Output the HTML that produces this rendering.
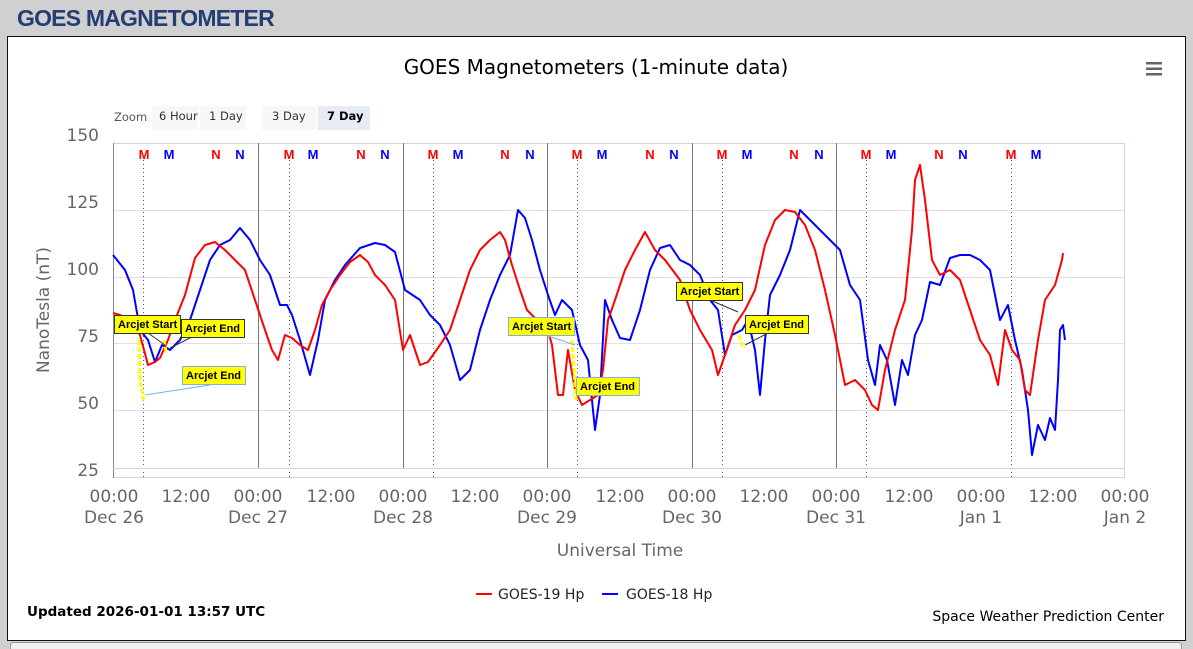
<!DOCTYPE html>
<html><head><meta charset="utf-8"><style>
html,body{margin:0;padding:0;width:1193px;height:649px;overflow:hidden;background:#d0d0d0;font-family:"Liberation Sans",sans-serif;}
</style></head><body>
<svg width="1193" height="649" xmlns="http://www.w3.org/2000/svg" style="position:absolute;left:0;top:0">
<rect x="0" y="0" width="1193" height="649" fill="#d0d0d0"/>
<text x="17" y="26" font-size="23" font-weight="bold" fill="#233e73" letter-spacing="-0.8">GOES MAGNETOMETER</text>
<rect x="7.5" y="36.5" width="1178" height="604" fill="#fff" stroke="#111" stroke-width="1"/>
<rect x="10.5" y="642.5" width="1171" height="10" rx="3" fill="#f0f0f0" stroke="#999"/>
<text x="596" y="74" font-size="20" text-anchor="middle" fill="#000" font-family="DejaVu Sans,sans-serif">GOES Magnetometers (1-minute data)</text>
<g fill="#666"><rect x="1146" y="62" width="16" height="2.5"/><rect x="1146" y="67.5" width="16" height="2.5"/><rect x="1146" y="73" width="16" height="2.5"/></g>
<g font-family="DejaVu Sans,sans-serif" font-size="11.5">
<text x="114" y="121" fill="#555">Zoom</text>
<rect x="152" y="106" width="46" height="24" fill="#f7f7f7"/><text x="159" y="120" fill="#333">6 Hour</text>
<rect x="200" y="106" width="46" height="24" fill="#f7f7f7"/><text x="209" y="120" fill="#333">1 Day</text>
<rect x="262" y="106" width="54" height="24" fill="#f7f7f7"/><text x="272" y="120" fill="#333">3 Day</text>
<rect x="318" y="106" width="52" height="24" fill="#e6ebf5"/><text x="327" y="120" fill="#000" font-weight="bold">7 Day</text>
</g>
<!-- grid -->
<g stroke="#e0e0e0" stroke-width="1">
<line x1="113" x2="1125" y1="210.5" y2="210.5"/><line x1="113" x2="1125" y1="277.5" y2="277.5"/>
<line x1="113" x2="1125" y1="343.5" y2="343.5"/><line x1="113" x2="1125" y1="410.5" y2="410.5"/>
</g>
<rect x="113.5" y="143.5" width="1011" height="334" fill="none" stroke="#ccd6eb"/>
<line x1="113.5" y1="143" x2="113.5" y2="478" stroke="#888"/>
<g font-size="17" fill="#666" font-family="DejaVu Sans,sans-serif" text-anchor="end">
<text x="99" y="141">150</text><text x="99" y="208">125</text><text x="99" y="275">100</text>
<text x="99" y="342">75</text><text x="99" y="409">50</text><text x="99" y="476">25</text>
</g>
<text transform="translate(49,310) rotate(-90)" font-size="17" fill="#666" text-anchor="middle" font-family="DejaVu Sans,sans-serif">NanoTesla (nT)</text>
<!-- day lines -->
<g stroke="#777" stroke-width="1">
<line x1="258.5" x2="258.5" y1="143" y2="468"/><line x1="403.5" x2="403.5" y1="143" y2="468"/>
<line x1="547.5" x2="547.5" y1="143" y2="468"/><line x1="692.5" x2="692.5" y1="143" y2="468"/>
<line x1="836.5" x2="836.5" y1="143" y2="468"/>
</g>
<g stroke="#555" stroke-width="1" stroke-dasharray="1,3">
<line x1="143.5" x2="143.5" y1="160" y2="478"/><line x1="289.5" x2="289.5" y1="160" y2="478"/>
<line x1="433.5" x2="433.5" y1="160" y2="478"/><line x1="577.5" x2="577.5" y1="160" y2="478"/>
<line x1="722.5" x2="722.5" y1="160" y2="478"/><line x1="866.5" x2="866.5" y1="160" y2="478"/>
<line x1="1011.5" x2="1011.5" y1="160" y2="478"/>
</g>
<g font-size="13" font-weight="bold" text-anchor="middle">
<text x="144" y="159" fill="#f00">M</text><text x="169" y="159" fill="#00f">M</text><text x="216" y="159" fill="#f00">N</text><text x="240" y="159" fill="#00f">N</text>
<text x="289" y="159" fill="#f00">M</text><text x="313" y="159" fill="#00f">M</text><text x="361" y="159" fill="#f00">N</text><text x="385" y="159" fill="#00f">N</text>
<text x="433" y="159" fill="#f00">M</text><text x="458" y="159" fill="#00f">M</text><text x="505" y="159" fill="#f00">N</text><text x="530" y="159" fill="#00f">N</text>
<text x="577" y="159" fill="#f00">M</text><text x="602" y="159" fill="#00f">M</text><text x="650" y="159" fill="#f00">N</text><text x="674" y="159" fill="#00f">N</text>
<text x="722" y="159" fill="#f00">M</text><text x="747" y="159" fill="#00f">M</text><text x="794" y="159" fill="#f00">N</text><text x="819" y="159" fill="#00f">N</text>
<text x="866" y="159" fill="#f00">M</text><text x="891" y="159" fill="#00f">M</text><text x="939" y="159" fill="#f00">N</text><text x="963" y="159" fill="#00f">N</text>
<text x="1011" y="159" fill="#f00">M</text><text x="1036" y="159" fill="#00f">M</text>
</g>
<line x1="113" x2="1125" y1="468.5" y2="468.5" stroke="#ccd6eb"/>
<!-- series -->
<polyline fill="none" stroke="#00f" stroke-width="2" stroke-linejoin="round" points="113,255 125,270 133,290 140,330 148,340 155,362 162,345 170,350 180,340 190,320 200,290 210,260 220,245 230,240 240,228 250,240 260,260 270,275 280,305 287,305 292,315 300,340 310,375 318,340 325,300 335,280 345,265 360,248 375,243 385,245 395,252 405,290 420,300 430,315 440,325 450,345 460,380 470,370 480,330 490,300 500,275 510,255 518,210 525,218 532,240 540,270 548,295 555,315 562,300 572,310 580,345 588,360 595,430 600,395 605,300 612,320 620,338 630,340 640,310 650,270 660,248 670,245 680,260 690,265 700,275 710,300 718,310 725,355 732,335 742,330 748,320 755,350 760,395 765,340 770,295 780,275 790,250 800,210 810,220 820,230 830,240 840,250 850,285 860,300 868,360 875,385 880,345 887,360 895,405 902,360 908,375 915,335 922,320 930,282 940,285 950,258 960,255 970,255 980,260 990,270 1000,320 1008,305 1015,340 1022,370 1028,410 1032,455 1038,425 1045,440 1050,418 1055,430 1058,380 1060,330 1063,325 1065,340"/>
<polyline fill="none" stroke="#f00" stroke-width="2" stroke-linejoin="round" points="113,313 120,315 130,320 140,335 148,365 155,362 160,358 168,340 175,320 185,295 195,258 205,245 215,242 225,250 235,260 245,270 255,300 265,330 272,350 278,360 285,335 292,338 300,345 308,350 315,330 322,305 330,290 340,275 350,262 360,255 368,262 375,275 385,285 395,300 403,350 410,335 420,365 428,362 440,345 450,330 460,300 470,270 480,250 490,240 500,232 505,240 512,265 520,290 527,310 535,318 545,320 552,345 558,395 563,395 568,350 575,390 582,405 590,400 598,395 603,370 608,320 615,300 625,270 635,250 645,232 655,250 665,260 680,280 690,310 700,330 712,350 718,375 725,355 735,325 745,310 755,290 765,245 775,220 785,210 795,212 805,225 815,250 825,290 835,335 845,385 855,380 865,390 872,405 878,410 885,370 895,330 905,300 912,230 915,180 920,165 925,200 932,260 940,275 950,270 960,280 970,310 980,340 990,355 998,385 1005,330 1012,350 1020,360 1025,390 1030,395 1038,340 1045,300 1055,285 1062,260 1063,253"/>
<!-- arcjet -->
<g stroke="#ff0" stroke-width="3" stroke-dasharray="5,2" fill="none">
<polyline points="139,340 140,380 144,402"/><polyline points="164,340 166,352"/>
<polyline points="572,340 576,400"/><polyline points="739,335 742,345 745,348"/>
</g>
<g stroke="#333" stroke-width="1"><line x1="148" y1="333" x2="165" y2="345"/><line x1="190" y1="338" x2="170" y2="348"/><line x1="710" y1="300" x2="738" y2="312"/><line x1="770" y1="332" x2="745" y2="345"/></g>
<g stroke="#7ab3e0" stroke-width="1"><line x1="145" y1="395" x2="210" y2="385"/><line x1="545" y1="335" x2="575" y2="345"/><line x1="580" y1="395" x2="610" y2="388"/></g>
<g font-size="11" font-weight="bold" fill="#000">
<rect x="114.5" y="315.5" width="66" height="18" fill="#ff0" stroke="#333"/><text x="118" y="328">Arcjet Start</text>
<rect x="181.5" y="319.5" width="63" height="18" fill="#ff0" stroke="#333"/><text x="185" y="332">Arcjet End</text>
<rect x="182.5" y="366.5" width="63" height="18" fill="#ff0" stroke="#7ab3e0"/><text x="186" y="379">Arcjet End</text>
<rect x="508.5" y="317.5" width="66" height="18" fill="#ff0" stroke="#7ab3e0"/><text x="512" y="330">Arcjet Start</text>
<rect x="576.5" y="377.5" width="63" height="18" fill="#ff0" stroke="#7ab3e0"/><text x="580" y="390">Arcjet End</text>
<rect x="676.5" y="282.5" width="66" height="18" fill="#ff0" stroke="#333"/><text x="680" y="295">Arcjet Start</text>
<rect x="745.5" y="315.5" width="63" height="18" fill="#ff0" stroke="#333"/><text x="749" y="328">Arcjet End</text>
</g>
<!-- x labels -->
<g font-size="17" fill="#666" font-family="DejaVu Sans,sans-serif" text-anchor="middle">
<text x="114" y="502">00:00</text><text x="114" y="523">Dec 26</text>
<text x="186" y="502">12:00</text>
<text x="258" y="502">00:00</text><text x="258" y="523">Dec 27</text>
<text x="331" y="502">12:00</text>
<text x="403" y="502">00:00</text><text x="403" y="523">Dec 28</text>
<text x="475" y="502">12:00</text>
<text x="547" y="502">00:00</text><text x="547" y="523">Dec 29</text>
<text x="620" y="502">12:00</text>
<text x="692" y="502">00:00</text><text x="692" y="523">Dec 30</text>
<text x="764" y="502">12:00</text>
<text x="836" y="502">00:00</text><text x="836" y="523">Dec 31</text>
<text x="909" y="502">12:00</text>
<text x="981" y="502">00:00</text><text x="981" y="523">Jan 1</text>
<text x="1053" y="502">12:00</text>
<text x="1125" y="502">00:00</text><text x="1125" y="523">Jan 2</text>
<text x="620" y="556">Universal Time</text>
</g>
<g font-size="14" fill="#222" font-family="DejaVu Sans,sans-serif">
<line x1="476" y1="594" x2="492" y2="594" stroke="#f00" stroke-width="2"/><text x="498" y="599">GOES-19 Hp</text>
<line x1="602" y1="594" x2="618" y2="594" stroke="#00f" stroke-width="2"/><text x="626" y="599">GOES-18 Hp</text>
<text x="27" y="616" font-weight="bold" fill="#000" font-size="13.5">Updated 2026-01-01 13:57 UTC</text>
<text x="1164" y="621" text-anchor="end" fill="#000">Space Weather Prediction Center</text>
</g>
</svg>
</body></html>
